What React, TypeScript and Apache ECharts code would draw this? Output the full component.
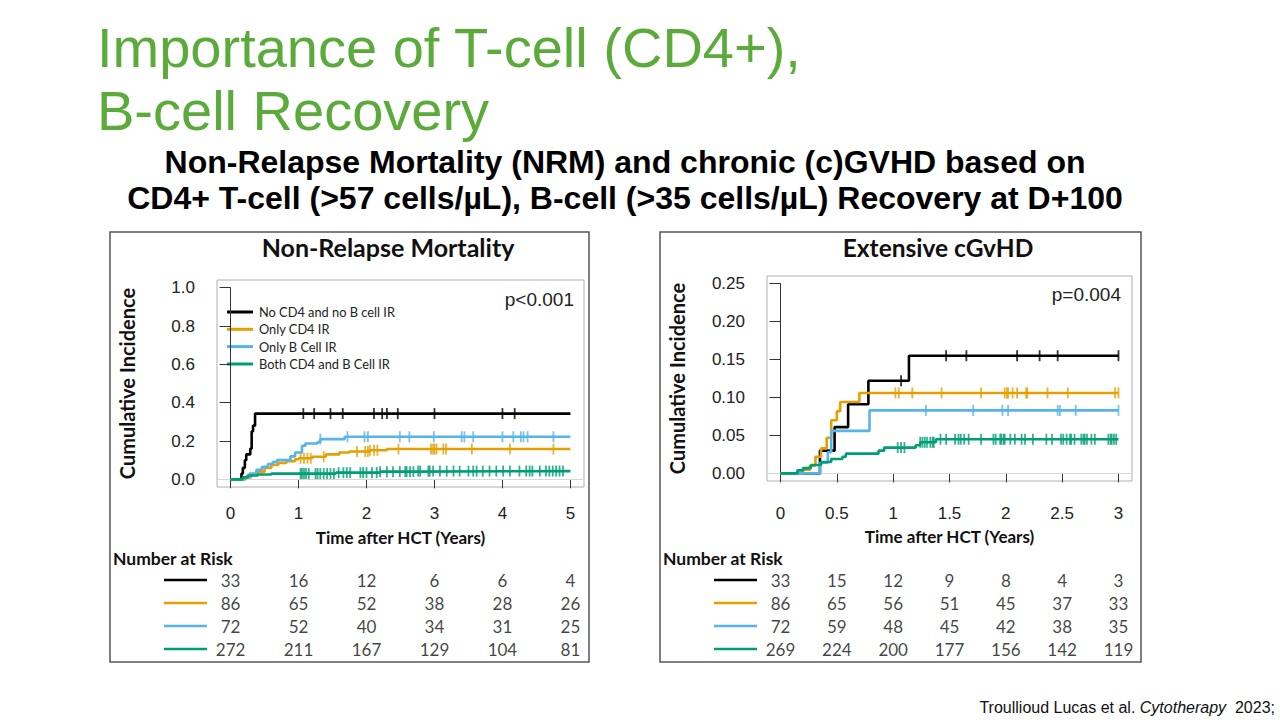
import React, { useEffect, useRef } from "react";
import * as echarts from "echarts";

// ---------- data ----------
const groupNames = ["No CD4 and no B cell IR", "Only CD4 IR", "Only B Cell IR", "Both CD4 and B Cell IR"];
const groupColors = ["#000000", "#E69F00", "#56B4E9", "#009E73"];

// Non-Relapse Mortality cumulative incidence steps [time (years), CI]
const nrmBlack = [[0, 0], [0.16, 0.03], [0.18, 0.06], [0.21, 0.1], [0.23, 0.13], [0.29, 0.16], [0.31, 0.25], [0.33, 0.28], [0.36, 0.343], [5, 0.343]];
const nrmOrange = [[0, 0], [0.22, 0.01], [0.3, 0.025], [0.4, 0.04], [0.5, 0.06], [0.6, 0.075], [0.7, 0.085], [0.82, 0.095], [0.95, 0.105], [1.0, 0.11], [1.2, 0.118], [1.4, 0.13], [1.6, 0.14], [1.75, 0.145], [2.05, 0.152], [2.3, 0.158], [5, 0.158]];
const nrmBlue = [[0, 0], [0.2, 0.01], [0.28, 0.03], [0.38, 0.05], [0.46, 0.065], [0.55, 0.08], [0.62, 0.09], [0.68, 0.1], [0.88, 0.12], [0.95, 0.14], [1.05, 0.175], [1.1, 0.187], [1.28, 0.195], [1.32, 0.21], [1.68, 0.222], [5, 0.222]];
const nrmGreen = [[0, 0], [0.18, 0.01], [0.25, 0.02], [0.4, 0.025], [0.6, 0.03], [1.55, 0.035], [2.2, 0.04], [2.7, 0.043], [5, 0.043]];

const nrmBlackCens = [1.07, 1.23, 1.47, 1.65, 2.11, 2.23, 2.3, 2.46, 3.0, 4.0, 4.18];
const nrmOrangeCens = [1.03, 1.08, 1.13, 1.18, 1.37, 1.86, 1.98, 2.02, 2.05, 2.11, 2.16, 2.47, 2.95, 2.98, 3.0, 3.03, 3.13, 3.17, 3.55, 4.11, 4.75];
const nrmBlueCens = [1.32, 1.72, 1.97, 2.02, 2.49, 2.63, 2.99, 3.4, 3.44, 3.57, 4.0, 4.16, 4.27, 4.31, 4.37, 4.75];
const nrmGreenCens = [1.03, 1.05, 1.08, 1.11, 1.15, 1.25, 1.28, 1.32, 1.37, 1.42, 1.47, 1.52, 1.59, 1.66, 1.71, 1.76, 1.91, 1.95, 2.0, 2.08, 2.15, 2.2, 2.3, 2.39, 2.49, 2.57, 2.59, 2.64, 2.69, 2.76, 2.79, 2.91, 2.93, 2.98, 3.08, 3.18, 3.28, 3.37, 3.5, 3.57, 3.62, 3.71, 3.81, 3.91, 4.01, 4.11, 4.25, 4.35, 4.4, 4.44, 4.55, 4.64, 4.69, 4.74, 4.79, 4.84, 4.89];

const nrmRiskTimes = [0, 1, 2, 3, 4, 5];
const nrmRiskBlack = [33, 16, 12, 6, 6, 4];
const nrmRiskOrange = [86, 65, 52, 38, 28, 26];
const nrmRiskBlue = [72, 52, 40, 34, 31, 25];
const nrmRiskGreen = [272, 211, 167, 129, 104, 81];

// Extensive cGvHD cumulative incidence steps
const cgBlack = [[0, 0], [0.35, 0.03], [0.48, 0.061], [0.6, 0.091], [0.78, 0.122], [1.14, 0.155], [3, 0.155]];
const cgOrange = [[0, 0], [0.2, 0.005], [0.26, 0.01], [0.31, 0.022], [0.36, 0.033], [0.41, 0.047], [0.45, 0.07], [0.5, 0.082], [0.53, 0.094], [0.7, 0.106], [3, 0.106]];
const cgBlue = [[0, 0], [0.35, 0.014], [0.42, 0.028], [0.45, 0.056], [0.79, 0.083], [3, 0.083]];
const cgGreen = [[0, 0], [0.15, 0.004], [0.2, 0.007], [0.27, 0.011], [0.36, 0.015], [0.45, 0.019], [0.55, 0.022], [0.58, 0.026], [0.87, 0.03], [0.92, 0.034], [1.2, 0.037], [1.24, 0.041], [1.38, 0.045], [3, 0.045]];

const cgBlackCens = [1.07, 1.47, 1.65, 2.1, 2.3, 2.46, 3.0];
const cgOrangeCens = [1.02, 1.05, 1.17, 1.43, 1.78, 1.99, 2.01, 2.02, 2.06, 2.1, 2.18, 2.19, 2.37, 2.55, 2.97, 3.0];
const cgBlueCens = [1.29, 1.71, 1.97, 2.02, 2.46, 2.48, 2.62, 3.0];
const cgGreenCens = [1.04, 1.07, 1.1, 1.24, 1.26, 1.28, 1.3, 1.33, 1.35, 1.36, 1.42, 1.47, 1.55, 1.58, 1.6, 1.63, 1.67, 1.78, 1.89, 1.91, 1.95, 1.96, 1.98, 1.99, 2.04, 2.08, 2.14, 2.17, 2.24, 2.36, 2.41, 2.49, 2.51, 2.54, 2.57, 2.58, 2.61, 2.67, 2.69, 2.7, 2.72, 2.76, 2.79, 2.91, 2.93, 2.94, 2.96, 2.98];

const cgRiskTimes = [0, 0.5, 1, 1.5, 2, 2.5, 3];
const cgRiskBlack = [33, 15, 12, 9, 8, 4, 3];
const cgRiskOrange = [86, 65, 56, 51, 45, 37, 33];
const cgRiskBlue = [72, 59, 48, 45, 42, 38, 35];
const cgRiskGreen = [269, 224, 200, 177, 156, 142, 119];

const nrmYTicks = ["0.0", "0.2", "0.4", "0.6", "0.8", "1.0"];
const cgYTicks = ["0.00", "0.05", "0.10", "0.15", "0.20", "0.25"];

// ---------- helpers ----------
const stepAt = (curve: number[][], t: number) => {
  let y = 0;
  for (const p of curve) if (p[0] <= t + 1e-9) y = p[1];
  return y;
};

const ARIAL = "'Liberation Sans', Arial, sans-serif";
const CAL = "Lato, 'Open Sans', sans-serif";

type Panel = {
  plot: { left: number; top: number; width: number; height: number };
  xr: number[]; yr: number[];
  xmax: number; xint: number; ymax: number; yint: number;
  yTicks: string[];
  curves: number[][][]; cens: number[][];
  riskTimes: number[]; risk: number[][];
  riskTop: number;
  names: string[];
  xLabelMargin: number; xNameGap: number;
};

function buildPanel(p: Panel, gi: number) {
  const g = p.plot;
  const sx = g.width / (p.xr[1] - p.xr[0]);
  const sy = g.height / (p.yr[1] - p.yr[0]);
  const axLeft = g.left + (0 - p.xr[0]) * sx;
  const axWidth = p.xmax * sx;
  const axTop = g.top + (p.yr[1] - p.ymax) * sy;
  const axHeight = p.ymax * sy;
  const xOff = g.top + g.height - (axTop + axHeight);
  const yOff = axLeft - g.left;

  const grids = [
    { left: g.left, top: g.top, width: g.width, height: g.height, show: true, borderColor: "#b0b0b0", borderWidth: 1, backgroundColor: "transparent" },
    { left: axLeft, top: axTop, width: axWidth, height: axHeight },
    { left: g.left, top: p.riskTop, width: g.width, height: 92 },
  ];
  const xAxes = [
    { gridIndex: gi, type: "value", min: p.xr[0], max: p.xr[1], show: false },
    {
      gridIndex: gi + 1, type: "value", min: 0, max: p.xmax, interval: p.xint, offset: xOff,
      axisLine: { show: true, lineStyle: { color: "#333", width: 1 } },
      axisTick: { show: true, length: 9, lineStyle: { color: "#333" } },
      axisLabel: { fontFamily: ARIAL, fontSize: 17, color: "#222", margin: p.xLabelMargin },
      splitLine: { show: false },
      name: "Time after HCT (Years)", nameLocation: "middle", nameGap: p.xNameGap,
      nameTextStyle: { fontFamily: CAL, fontWeight: "bold", fontSize: 17, color: "#111" },
    },
    { gridIndex: gi + 2, type: "value", min: p.xr[0], max: p.xr[1], show: false },
  ];
  const yAxes = [
    { gridIndex: gi, type: "value", min: p.yr[0], max: p.yr[1], show: false },
    {
      gridIndex: gi + 1, type: "value", min: 0, max: p.ymax, interval: p.yint, offset: yOff,
      axisLine: { show: true, lineStyle: { color: "#333", width: 1 } },
      axisTick: { show: true, length: 11, lineStyle: { color: "#333" } },
      axisLabel: {
        fontFamily: ARIAL, fontSize: 17, color: "#222", margin: 22,
        formatter: (v: number) => p.yTicks[Math.round(v / p.yint)],
      },
      splitLine: { show: false },
      name: "Cumulative Incidence", nameLocation: "middle", nameGap: 80, nameRotate: 90,
      nameTextStyle: { fontFamily: CAL, fontWeight: "bold", fontSize: 20, color: "#111" },
    },
    { gridIndex: gi + 2, type: "category", data: ["0", "1", "2", "3"], inverse: true, show: false },
  ];
  const xi = gi;
  const series: any[] = [];
  p.curves.forEach((c, i) => {
    series.push({
      name: p.names[i], type: "line", step: "end", xAxisIndex: xi, yAxisIndex: xi,
      data: c, symbol: "none", lineStyle: { color: groupColors[i], width: 2.6 },
      itemStyle: { color: groupColors[i] }, z: 3 + i, silent: true,
      markLine: i === 0 ? {
        silent: true, symbol: "none", label: { show: false },
        lineStyle: { color: "#d8d8d8", width: 1, type: "solid" }, data: [{ yAxis: 0 }], z: 1,
      } : undefined,
    });
  });
  p.cens.forEach((ts, i) => {
    series.push({
      name: p.names[i] + " censored", type: "scatter", xAxisIndex: xi, yAxisIndex: xi,
      data: ts.map((t) => [t, stepAt(p.curves[i], t)]),
      symbol: "rect", symbolSize: [1.8, 11], itemStyle: { color: groupColors[i] }, z: 8 + i, silent: true,
    });
  });
  p.risk.forEach((r, i) => {
    series.push({
      name: p.names[i] + " risk", type: "scatter", xAxisIndex: xi + 2, yAxisIndex: xi + 2,
      data: r.map((n, j) => [p.riskTimes[j], i, n]), symbolSize: 1,
      itemStyle: { color: "rgba(0,0,0,0)" }, silent: true,
      label: {
        show: true, position: "inside", formatter: (q: any) => String(q.value[2]),
        fontFamily: CAL, fontSize: 17, color: "#111",
      },
    });
  });
  return { grids, xAxes, yAxes, series };
}

export default function App() {
  const ref = useRef<HTMLDivElement>(null);
  useEffect(() => {
    if (!ref.current) return;
    const chart = echarts.init(ref.current, undefined, { renderer: "svg" });

    const left = buildPanel({
      plot: { left: 217, top: 280, width: 367, height: 207 },
      xr: [-0.2, 5.2], yr: [-0.04, 1.04], xmax: 5, xint: 1, ymax: 1, yint: 0.2,
      yTicks: nrmYTicks,
      curves: [nrmBlack, nrmOrange, nrmBlue, nrmGreen],
      cens: [nrmBlackCens, nrmOrangeCens, nrmBlueCens, nrmGreenCens],
      riskTimes: nrmRiskTimes, risk: [nrmRiskBlack, nrmRiskOrange, nrmRiskBlue, nrmRiskGreen],
      riskTop: 568.5, names: groupNames, xLabelMargin: 18, xNameGap: 42,
    }, 0);
    const right = buildPanel({
      plot: { left: 767, top: 276, width: 365, height: 205 },
      xr: [-0.12, 3.12], yr: [-0.01, 0.26], xmax: 3, xint: 0.5, ymax: 0.25, yint: 0.05,
      yTicks: cgYTicks,
      curves: [cgBlack, cgOrange, cgBlue, cgGreen],
      cens: [cgBlackCens, cgOrangeCens, cgBlueCens, cgGreenCens],
      riskTimes: cgRiskTimes, risk: [cgRiskBlack, cgRiskOrange, cgRiskBlue, cgRiskGreen],
      riskTop: 568.5, names: groupNames.map((n) => "cGvHD " + n), xLabelMargin: 24, xNameGap: 47,
    }, 3);

    const riskLines = (x1: number, x2: number) =>
      [580, 603, 626, 649].map((y, i) => ({
        type: "line", shape: { x1, y1: y, x2, y2: y },
        style: { stroke: groupColors[i], lineWidth: 2.6 }, silent: true,
      }));

    const legendY = [312, 329.3, 346.6, 364];
    const legendLines = legendY.map((y, i) => ({
      type: "line", shape: { x1: 227, y1: y, x2: 253, y2: y },
      style: { stroke: groupColors[i], lineWidth: 3 }, silent: true,
    }));
    const legendTexts = groupNames.map((n, i) => ({
      type: "text", x: 259, y: legendY[i],
      style: { text: n, fontFamily: CAL, fontSize: 12.8, fill: "#222", verticalAlign: "middle" },
      silent: true,
    }));

    chart.setOption({
      animation: false,
      backgroundColor: "#ffffff",
      grid: [...left.grids, ...right.grids],
      xAxis: [...left.xAxes, ...right.xAxes],
      yAxis: [...left.yAxes, ...right.yAxes],
      series: [...left.series, ...right.series],
      graphic: [
        { type: "text", x: 97, y: 47, style: { text: "Importance of T-cell (CD4+),", fontFamily: ARIAL, fontSize: 56, fill: "#5bab3b", verticalAlign: "middle" } },
        { type: "text", x: 97, y: 110, style: { text: "B-cell Recovery", fontFamily: ARIAL, fontSize: 56, fill: "#5bab3b", verticalAlign: "middle" } },
        {
          type: "text", x: 625, y: 180,
          style: {
            text: "Non-Relapse Mortality (NRM) and chronic (c)GVHD based on\nCD4+ T-cell (>57 cells/µL), B-cell (>35 cells/µL) Recovery at D+100",
            fontFamily: ARIAL, fontWeight: "bold", fontSize: 32, lineHeight: 36, fill: "#000", align: "center", verticalAlign: "middle",
          },
        },
        { type: "rect", shape: { x: 110, y: 232, width: 479, height: 430 }, style: { fill: "none", stroke: "#555", lineWidth: 1.5 }, silent: true },
        { type: "rect", shape: { x: 660, y: 232, width: 481, height: 430 }, style: { fill: "none", stroke: "#555", lineWidth: 1.5 }, silent: true },
        { type: "text", x: 388, y: 247, style: { text: "Non-Relapse Mortality", fontFamily: CAL, fontWeight: "bold", fontSize: 25, fill: "#111", align: "center", verticalAlign: "middle" } },
        { type: "text", x: 938, y: 247, style: { text: "Extensive cGvHD", fontFamily: CAL, fontWeight: "bold", fontSize: 24.5, fill: "#111", align: "center", verticalAlign: "middle" } },
        { type: "text", x: 574, y: 299, style: { text: "p<0.001", fontFamily: ARIAL, fontSize: 19, fill: "#222", align: "right", verticalAlign: "middle" } },
        { type: "text", x: 1121, y: 294, style: { text: "p=0.004", fontFamily: ARIAL, fontSize: 19, fill: "#222", align: "right", verticalAlign: "middle" } },
        ...legendLines,
        ...legendTexts,
        { type: "text", x: 113, y: 558, style: { text: "Number at Risk", fontFamily: CAL, fontWeight: "bold", fontSize: 17.5, fill: "#111", verticalAlign: "middle" } },
        { type: "text", x: 663, y: 558, style: { text: "Number at Risk", fontFamily: CAL, fontWeight: "bold", fontSize: 17.5, fill: "#111", verticalAlign: "middle" } },
        ...riskLines(164, 207),
        ...riskLines(714, 757),
        {
          type: "text", x: 1275, y: 707,
          style: {
            text: "{a|Troullioud Lucas et al. }{b|Cytotherapy}{a|  2023;}",
            align: "right", verticalAlign: "middle",
            rich: {
              a: { fontFamily: ARIAL, fontSize: 16, fill: "#111" },
              b: { fontFamily: ARIAL, fontSize: 16, fontStyle: "italic", fill: "#111" },
            },
          },
        },
      ],
    });
    return () => chart.dispose();
  }, []);
  return <div ref={ref} style={{ position: "absolute", left: 0, top: 0, width: 1280, height: 720, background: "#fff" }} />;
}
